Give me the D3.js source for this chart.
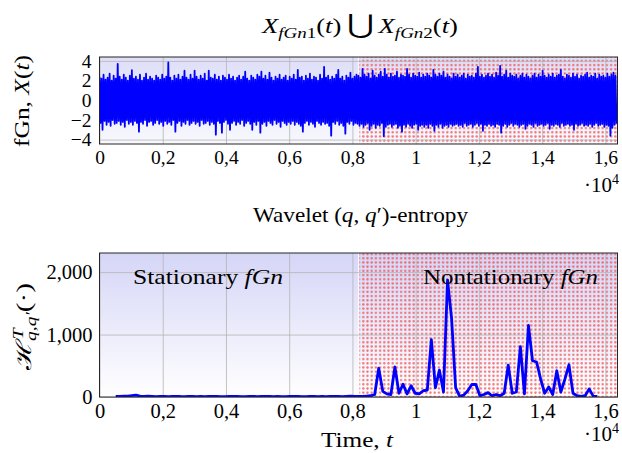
<!DOCTYPE html>
<html>
<head>
<meta charset="utf-8">
<script src="https://cdn.jsdelivr.net/npm/d3@7"></script>
<style>
  body { margin: 0; background: #fff; }
  text { font-family: "Liberation Serif", "DejaVu Serif", serif; fill: #000; }
</style>
</head>
<body>
<script>
// ---- data ----
var nSamples = 16384;      // length of the fGn record
var regionSplit = 8192;    // start of the nonstationary half
var binSize = 64;          // samples per min/max bin of the fGn trace

// per-bin maxima of the fGn trace
var fgnHigh = [
  2.4, 2.2, 2.6, 2.1, 2.3, 2.7, 2.0, 2.5, 2.2, 3.7, 2.4, 2.1, 2.6, 2.3, 2.0, 2.5,
  3.05,2.2, 2.4, 2.1, 2.6, 2.0, 2.3, 2.7, 2.1, 2.4, 2.2, 2.0, 2.5, 2.3, 2.1, 2.6,
  2.2, 2.4, 3.85,2.3, 2.0, 2.5, 2.2, 2.6, 2.1, 2.4, 3.0, 2.3, 2.1, 2.6, 2.2, 3.0,
  2.4, 2.1, 2.5, 2.2, 2.7, 2.0, 3.0, 2.3, 2.2, 2.6, 2.1, 2.4, 2.0, 2.5, 2.3, 2.1,
  2.6, 2.2, 2.4, 2.0, 2.3, 2.5, 2.1, 2.4, 2.9, 2.2, 2.0, 2.5, 2.3, 2.1, 2.6, 2.4,
  2.9, 2.2, 2.5, 2.1, 2.8, 2.3, 2.0, 2.4, 2.2, 2.6, 2.1, 2.3, 2.5, 2.0, 2.4, 2.2,
  2.6, 2.1, 3.1, 2.3, 2.4, 2.0, 2.5, 2.2, 2.7, 2.1, 2.4, 2.3, 2.0, 2.6, 2.2, 3.4,
  2.3, 2.5, 2.1, 2.4, 2.2, 2.6, 3.1, 2.2, 2.4, 2.0, 2.5, 2.3, 2.8, 2.2, 2.4, 2.6,
  2.5, 2.3, 3.2, 2.6, 2.4, 2.7, 2.2, 3.0, 2.5, 2.3, 2.6, 2.9, 2.4, 3.2, 2.6, 2.3,
  2.7, 2.4, 2.5, 2.9, 2.3, 2.6, 2.5, 2.4, 3.2, 2.6, 2.3, 2.7, 2.5, 2.4, 2.8, 2.3,
  2.6, 2.4, 2.7, 2.5, 2.3, 3.1, 2.6, 2.4, 2.7, 2.5, 2.9, 2.3, 2.6, 2.4, 2.2, 2.7,
  2.4, 2.6, 2.3, 2.5, 2.7, 2.2, 2.6, 2.4, 2.5, 2.3, 2.7, 3.4, 2.4, 2.6, 2.3, 2.5,
  2.7, 2.4, 2.6, 2.3, 2.8, 2.5, 3.5, 2.4, 2.6, 3.0, 2.3, 2.7, 2.5, 2.4, 2.6, 2.2,
  2.5, 2.7, 2.3, 2.6, 2.4, 2.2, 2.5, 2.7, 2.3, 2.6, 2.4, 3.0, 2.5, 2.3, 2.6, 2.4,
  2.7, 2.3, 2.5, 2.6, 3.1, 2.4, 2.2, 2.6, 2.5, 2.3, 2.7, 2.4, 2.6, 2.2, 2.5, 2.4,
  2.6, 2.8, 2.3, 2.5, 2.4, 2.7, 2.2, 2.6, 2.4, 2.5, 2.3, 2.7, 2.4, 2.6, 2.8, 2.5
];

// per-bin minima of the fGn trace
var fgnLow = [
  -2.3, -3.0, -2.1, -2.5, -2.2, -2.6, -2.0, -2.4, -2.3, -2.1, -2.5, -2.2, -2.7, -2.0, -2.4, -2.2,
  -2.5, -2.1, -2.3, -3.2, -2.2, -2.4, -2.0, -2.6, -2.2, -2.1, -2.5, -2.3, -2.0, -2.4, -2.2, -2.6,
  -2.1, -2.4, -2.2, -2.5, -2.0, -3.2, -2.3, -2.1, -2.6, -2.2, -2.4, -2.0, -2.5, -2.3, -2.1, -2.4,
  -2.2, -2.6, -2.0, -2.4, -2.3, -2.1, -2.5, -2.2, -2.4, -3.5, -2.1, -2.3, -3.3, -2.2, -2.0, -2.4,
  -3.0, -2.3, -2.1, -2.5, -2.2, -2.4, -2.0, -2.6, -2.3, -2.1, -2.4, -3.0, -2.2, -2.5, -2.1, -3.3,
  -2.4, -2.2, -2.6, -2.1, -2.3, -2.5, -2.0, -2.4, -2.2, -2.7, -2.1, -2.3, -2.5, -2.2, -2.4, -2.1,
  -2.5, -2.2, -2.4, -2.6, -3.2, -2.3, -2.1, -2.5, -2.2, -2.4, -2.7, -2.1, -2.3, -2.5, -2.2, -2.4,
  -2.3, -2.6, -3.6, -2.2, -2.4, -2.1, -2.5, -2.3, -2.6, -3.4, -2.2, -2.4, -2.1, -2.5, -2.3, -2.4,
  -2.6, -2.4, -2.7, -2.5, -2.3, -3.0, -2.6, -2.4, -2.8, -2.5, -2.6, -2.3, -3.65,-2.7, -2.5, -2.4,
  -2.7, -2.5, -2.4, -2.8, -2.6, -3.2, -2.5, -2.7, -2.4, -2.6, -2.8, -2.5, -2.4, -3.0, -2.6, -2.5,
  -2.7, -2.5, -2.8, -2.4, -2.6, -3.1, -2.5, -2.7, -2.4, -2.8, -2.6, -2.5, -2.7, -2.4, -2.6, -2.5,
  -2.4, -2.6, -2.5, -2.7, -2.3, -2.6, -2.5, -2.4, -2.7, -2.5, -2.3, -2.6, -2.4, -3.1, -2.5, -2.6,
  -2.4, -2.6, -2.5, -2.7, -2.4, -2.5, -3.3, -2.6, -2.4, -2.7, -2.5, -2.3, -2.6, -2.4, -2.5, -2.7,
  -2.5, -2.4, -2.9, -2.6, -2.4, -2.5, -2.7, -2.3, -2.6, -2.5, -2.4, -2.6, -2.5, -2.3, -2.9, -2.5,
  -2.6, -2.4, -2.5, -2.7, -2.3, -2.6, -2.5, -2.4, -2.6, -2.5, -3.0, -2.4, -2.6, -2.5, -2.3, -2.6,
  -2.5, -2.6, -2.4, -2.7, -2.5, -2.3, -2.6, -2.5, -2.4, -2.7, -2.5, -2.6, -3.6, -2.8, -2.5, -2.4
];

// wavelet (q,q')-entropy, one value every 128 samples starting at t = 512
var entropyStart = 512;
var entropyStep = 128;
var entropyValues = [
  8, 10, 12, 15, 22, 30, 14, 9, 12, 9, 7, 10, 8, 6, 9, 11,
  8, 7, 9, 10, 6, 8, 7, 9, 10, 8, 6, 7, 9, 8, 10, 7,
  6, 8, 9, 7, 8, 10, 9, 7, 8, 6, 7, 9, 8, 10, 7, 6,
  8, 9, 7, 8, 6, 9, 10, 8, 7, 9, 12, 10, 8, 10, 15, 20,
  40, 460, 90, 50, 40, 480, 60, 205, 50, 180, 60, 50, 100, 110, 920, 150,
  430, 80, 1870, 1260, 150, 10, 30, 100, 200, 200, 20, 40, 70, 20, 40, 20,
  60, 510, 60, 80, 806, 50, 1145, 580, 560, 290, 60, 160, 40, 420, 80, 285,
  516, 60, 20, 10, 20, 130, 15, 10
];

var xTicks = [0, 2000, 4000, 6000, 8000, 10000, 12000, 14000, 16000];
var xTickLabels = ["0", "0,2", "0,4", "0,6", "0,8", "1", "1,2", "1,4", "1,6"];
var topYTicks = [-4, -2, 0, 2, 4];
var topYTickLabels = ["\u22124", "\u22122", "0", "2", "4"];
var bottomYTicks = [0, 1000, 2000];
var bottomYTickLabels = ["0", "1,000", "2,000"];

// ---- layout ----
var W = 622, H = 453;
var left = 99.5, right = 617.5;
var fs = "21px";

var svg = d3.select("body").append("svg")
    .attr("width", W)
    .attr("height", H);

var defs = svg.append("defs");

// red dot pattern for the nonstationary half
var pat = defs.append("pattern")
    .attr("id", "dots")
    .attr("patternUnits", "userSpaceOnUse")
    .attr("width", 4.2)
    .attr("height", 4.2);
pat.append("circle")
    .attr("cx", 2.1).attr("cy", 2.1).attr("r", 1.2)
    .attr("fill", "#f24a4a")
    .attr("fill-opacity", 0.75);

function gradient(id, top, bottom) {
  var g = defs.append("linearGradient")
      .attr("id", id)
      .attr("x1", 0).attr("y1", 0).attr("x2", 0).attr("y2", 1);
  g.append("stop").attr("offset", "0%").attr("stop-color", top);
  g.append("stop").attr("offset", "100%").attr("stop-color", bottom);
}
gradient("gradTop", "#dedef8", "#f8f8fe");
gradient("gradBottom", "#d5d5f7", "#ffffff");

var x = d3.scaleLinear().domain([0, nSamples]).range([left, right]);

function panel(opts) {
  var y = d3.scaleLinear().domain(opts.yDomain).range([opts.bottom, opts.top]);
  var h = opts.bottom - opts.top;
  var g = svg.append("g");

  // background: gradient everywhere, dots on the nonstationary half
  g.append("rect")
      .attr("x", left).attr("y", opts.top)
      .attr("width", right - left).attr("height", h)
      .attr("fill", "url(#" + opts.grad + ")");
  g.append("rect")
      .attr("x", x(regionSplit) + 0.8).attr("y", opts.top)
      .attr("width", right - x(regionSplit) - 0.8).attr("height", h)
      .attr("fill", "url(#dots)");
  g.append("line")
      .attr("x1", x(regionSplit)).attr("x2", x(regionSplit))
      .attr("y1", opts.top).attr("y2", opts.bottom)
      .attr("stroke", "#ffffff").attr("stroke-width", 1.2).attr("stroke-opacity", 0.8);

  // grid
  var gx = g.append("g")
      .attr("transform", "translate(0," + opts.bottom + ")")
      .call(d3.axisBottom(x).tickValues(xTicks).tickSize(-h).tickFormat(""));
  var gy = g.append("g")
      .attr("transform", "translate(" + left + ",0)")
      .call(d3.axisLeft(y).tickValues(opts.yTicks).tickSize(-(right - left)).tickFormat(""));
  [gx, gy].forEach(function(a) {
    a.select(".domain").remove();
    a.selectAll("line").attr("stroke", "#b4b4b4").attr("stroke-width", 0.8);
  });

  // clip for data
  var clipId = "clip" + opts.grad;
  defs.append("clipPath").attr("id", clipId)
    .append("rect")
      .attr("x", left).attr("y", opts.top)
      .attr("width", right - left).attr("height", h);

  g.append("path")
      .datum(opts.data)
      .attr("clip-path", "url(#" + clipId + ")")
      .attr("fill", "none")
      .attr("stroke", "#0000ff")
      .attr("stroke-width", opts.lineWidth)
      .attr("stroke-linejoin", "round")
      .attr("d", d3.line()
        .x(function(d) { return x(d.t); })
        .y(function(d) { return y(d.v); }));

  // frame
  g.append("rect")
      .attr("x", left).attr("y", opts.top)
      .attr("width", right - left).attr("height", h)
      .attr("fill", "none")
      .attr("stroke", "#262626")
      .attr("stroke-width", 1);

  // tick labels
  var ax = g.append("g")
      .attr("transform", "translate(0," + opts.bottom + ")")
      .call(d3.axisBottom(x).tickValues(xTicks).tickSize(0).tickPadding(opts.xPad)
        .tickFormat(function(d, i) { return xTickLabels[i]; }));
  var ay = g.append("g")
      .attr("transform", "translate(" + left + ",0)")
      .call(d3.axisLeft(y).tickValues(opts.yTicks).tickSize(0).tickPadding(opts.yPad)
        .tickFormat(function(d, i) { return opts.yLabels[i]; }));
  [ax, ay].forEach(function(a) {
    a.select(".domain").remove();
    a.attr("font-family", null).attr("font-size", null);
    a.selectAll("text").style("font-size", opts.tickFs).attr("fill", "#000");
  });

  // ·10^4 multiplier
  var m = g.append("text")
      .attr("x", 584).attr("y", opts.multY)
      .style("font-size", fs);
  m.append("tspan").text("\u00b710");
  m.append("tspan").attr("dy", -8).style("font-size", "14px").text("4");

  return y;
}

// top panel: fGn trace drawn as a min/max zigzag per bin
var fgnPoints = [];
fgnHigh.forEach(function(v, i) {
  fgnPoints.push({t: i * binSize, v: v});
  fgnPoints.push({t: i * binSize + binSize / 2, v: fgnLow[i]});
});

panel({
  top: 57, bottom: 144, yDomain: [-4.45, 4.4], yTicks: topYTicks, yLabels: topYTickLabels,
  grad: "gradTop", data: fgnPoints, lineWidth: 1.8, xPad: 6, yPad: 8, multY: 192, tickFs: "19.5px"
});

// bottom panel: entropy
var entropyPoints = entropyValues.map(function(v, i) {
  return {t: entropyStart + i * entropyStep, v: v};
});

panel({
  top: 253, bottom: 397, yDomain: [0, 2306], yTicks: bottomYTicks, yLabels: bottomYTickLabels,
  grad: "gradBottom", data: entropyPoints, lineWidth: 2.8, xPad: 6, yPad: 7, multY: 441, tickFs: "20.5px"
});

// ---- texts ----
function it(sel, s) { return sel.append("tspan").style("font-style", "italic").text(s); }
function up(sel, s) { return sel.append("tspan").text(s); }
function fit(sel, w) { return sel.attr("textLength", w).attr("lengthAdjust", "spacingAndGlyphs"); }

// title 1: X_fGn1(t) ⋃ X_fGn2(t)
var t1 = svg.append("text").attr("x", 262).attr("y", 33).style("font-size", fs);
it(t1, "X");
it(t1, "fGn").attr("dy", 5).style("font-size", "15px");
up(t1, "1").style("font-size", "15px");
up(t1, "(").attr("dy", -5);
it(t1, "t");
up(t1, ")\u2009");
up(t1, "\u22c3").style("font-size", "26px");
up(t1, "\u2009");
it(t1, "X");
it(t1, "fGn").attr("dy", 5).style("font-size", "15px");
up(t1, "2").style("font-size", "15px");
up(t1, "(").attr("dy", -5);
it(t1, "t");
up(t1, ")");
fit(t1, 196);

// title 2
var t2 = svg.append("text").attr("x", 253).attr("y", 222).style("font-size", fs);
up(t2, "Wavelet (");
it(t2, "q");
up(t2, ", ");
it(t2, "q");
up(t2, "\u2032)-entropy");
fit(t2, 215);

// x label
var xl = svg.append("text").attr("x", 321).attr("y", 447).style("font-size", fs);
up(xl, "Time, ");
it(xl, "t");
fit(xl, 72);

// y label top
var yl1 = svg.append("text")
    .attr("transform", "translate(29,147) rotate(-90)")
    .style("font-size", fs);
up(yl1, "fGn, ");
it(yl1, "X");
up(yl1, "(");
it(yl1, "t");
up(yl1, ")");
fit(yl1, 92);

// y label bottom
var yl2 = svg.append("text")
    .attr("transform", "translate(31,370) rotate(-90)")
    .style("font-size", fs);
up(yl2, "\u210b");
it(yl2, "T").attr("dy", -8).style("font-size", "14px");
it(yl2, "q,q\u2032").attr("dx", -9).attr("dy", 13).style("font-size", "14px");
up(yl2, "(\u00b7)").attr("dy", -5);
fit(yl2, 87);

// region annotations
var a1 = svg.append("text").attr("x", 133).attr("y", 284).style("font-size", fs);
up(a1, "Stationary ");
it(a1, "fGn");
fit(a1, 150);

var a2 = svg.append("text").attr("x", 423).attr("y", 284).style("font-size", fs);
up(a2, "Nontationary ");
it(a2, "fGn");
fit(a2, 175);
</script>
</body>
</html>
